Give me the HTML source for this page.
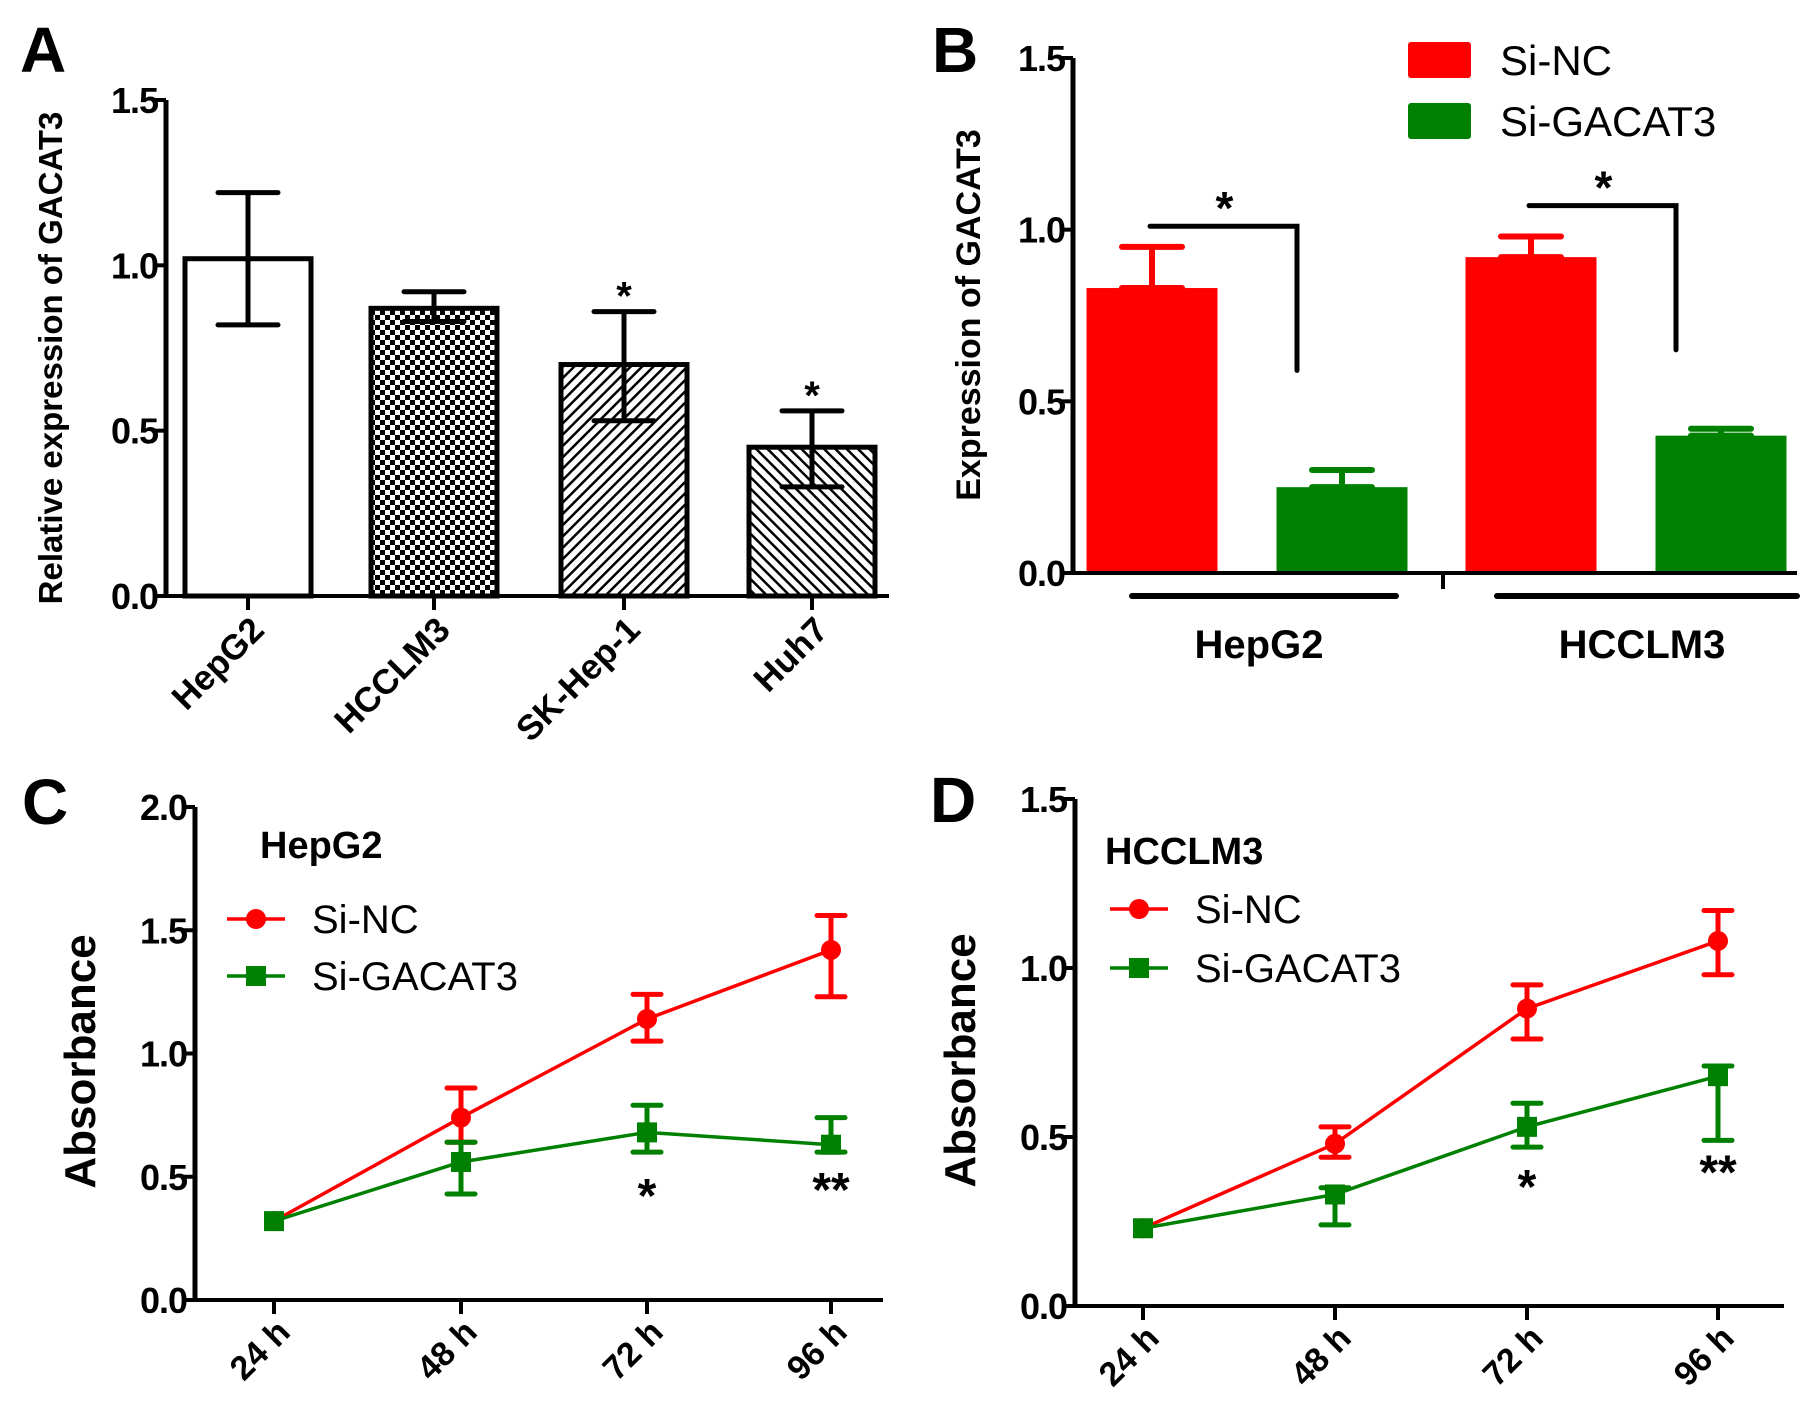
<!DOCTYPE html>
<html><head><meta charset="utf-8"><style>
html,body{margin:0;padding:0;background:#fff;overflow:hidden}
svg{display:block;font-family:"Liberation Sans",Arial,sans-serif}
</style></head><body>
<svg id="fig" width="1819" height="1420" viewBox="0 0 1819 1420" xmlns="http://www.w3.org/2000/svg">
<defs>
<pattern id="checker" width="10" height="10" patternUnits="userSpaceOnUse"><rect width="10" height="10" fill="#fff"/><rect width="5" height="5" fill="#000"/><rect x="5" y="5" width="5" height="5" fill="#000"/></pattern>
<pattern id="hatch1" width="8" height="8" patternUnits="userSpaceOnUse" patternTransform="rotate(45)"><rect width="8" height="8" fill="#fff"/><rect width="2.5" height="8" fill="#000"/></pattern>
<pattern id="hatch2" width="8" height="8" patternUnits="userSpaceOnUse" patternTransform="rotate(-45)"><rect width="8" height="8" fill="#fff"/><rect width="2.5" height="8" fill="#000"/></pattern>
</defs>
<g id="gA"></g>
<g id="gB"></g>
<g id="gC"></g>
<g id="gD"></g>
</svg>
<script>
// Panel A data
const aCategories = ["HepG2","HCCLM3","SK-Hep-1","Huh7"];
const aValues = [1.02,0.87,0.70,0.45];
const aErrHigh = [1.22,0.92,0.86,0.56];
const aErrLow = [0.82,0.83,0.53,0.33];
const aStars = ["","","*","*"];
const aTicks = [0.0,0.5,1.0,1.5];
// Panel B data
const bGroups = ["HepG2","HCCLM3"];
const bSeries = ["Si-NC","Si-GACAT3"];
const bNC = [0.83,0.92];
const bNCErr = [0.95,0.98];
const bSi = [0.25,0.40];
const bSiErr = [0.30,0.42];
const bBracketTop = [1.01,1.07];
const bBracketEnd = [0.59,0.65];
const bTicks = [0.0,0.5,1.0,1.5];
// Panel C data
const timeLabels = ["24 h","48 h","72 h","96 h"];
const cNC = [0.32,0.74,1.14,1.42];
const cNCHigh = [0.32,0.86,1.24,1.56];
const cNCLow = [0.32,0.64,1.05,1.23];
const cSi = [0.32,0.56,0.68,0.63];
const cSiHigh = [0.32,0.64,0.79,0.74];
const cSiLow = [0.32,0.43,0.60,0.60];
const cStars = ["","","*","**"];
const cTicks = [0.0,0.5,1.0,1.5,2.0];
// Panel D data
const dNC = [0.23,0.48,0.88,1.08];
const dNCHigh = [0.23,0.53,0.95,1.17];
const dNCLow = [0.23,0.44,0.79,0.98];
const dSi = [0.23,0.33,0.53,0.68];
const dSiHigh = [0.23,0.35,0.60,0.71];
const dSiLow = [0.23,0.24,0.47,0.49];
const dStars = ["","","*","**"];
const dTicks = [0.0,0.5,1.0,1.5];

const NS="http://www.w3.org/2000/svg";
function el(parent,tag,attrs,text){const e=document.createElementNS(NS,tag);for(const k in attrs)e.setAttribute(k,attrs[k]);if(text!==undefined)e.textContent=text;parent.appendChild(e);return e;}
function lin(d0,d1,r0,r1){return v=>r0+(v-d0)/(d1-d0)*(r1-r0);}
const RED="#ff0000",GREEN="#008000";

function yAxis(g,x,y,ticks,fmtSize){
  const ax=el(g,'line',{x1:x,y1:y(ticks[0])+2,x2:x,y2:y(ticks[ticks.length-1]),stroke:'#000','stroke-width':5});
  
  
  ticks.forEach(t=>{
    const tk=el(g,'line',{x1:x-12,y1:y(t),x2:x,y2:y(t),stroke:'#000','stroke-width':4});
    
    
    const lb=el(g,'text',{x:x-8,y:y(t)+13,'text-anchor':'end','font-size':fmtSize,'font-weight':'bold','letter-spacing':-1},t.toFixed(1));
    
    
  });
}
function label(g,x,y,txt,size,name,weight,anchor){
  const t=el(g,'text',{x:x,y:y,'font-size':size,'font-weight':weight||'bold','text-anchor':anchor||'start'},txt);
  
  
  return t;
}
function vtitle(g,x,y,txt,size){
  const t=el(g,'text',{x:0,y:0,'font-size':size,'font-weight':'bold','text-anchor':'middle',transform:`translate(${x},${y}) rotate(-90)`},txt);
  
  
}
function errbar(g,x,hi,lo,w,color,sw){
  const e=el(g,'path',{d:`M${x},${hi}V${lo}M${x-w},${hi}H${x+w}M${x-w},${lo}H${x+w}`,stroke:color,'stroke-width':sw,fill:'none','stroke-linecap':'round'});
  
  
}

// ---------- Panel A ----------
(function(){
  const g=document.getElementById('gA');
  const y=lin(0,1.5,596,100);
  label(g,20,72,"A",64,'panel-label-a');
  vtitle(g,62,358,"Relative expression of GACAT3",33);
  const centers=[248,434,624,812], bw=126;
  const fills=["#fff","url(#checker)","url(#hatch1)","url(#hatch2)"];
  aCategories.forEach((c,i)=>{
    const cx=centers[i];
    const r=el(g,'rect',{x:cx-bw/2,y:y(aValues[i]),width:bw,height:y(0)-y(aValues[i]),fill:fills[i],stroke:'#000','stroke-width':5});
    
    
    errbar(g,cx,y(aErrHigh[i]),y(aErrLow[i]),30,'#000',5);
    if(aStars[i]){label(g,cx,y(aErrHigh[i])-2,aStars[i],40,'significance-star','bold','middle');}
    const tk=el(g,'line',{x1:cx,y1:y(0),x2:cx,y2:y(0)+14,stroke:'#000','stroke-width':4});
    
    
    const t=el(g,'text',{x:0,y:0,'font-size':35,'font-weight':'bold','text-anchor':'end',transform:`translate(${cx+18},${y(0)+36}) rotate(-45)`},c);
    
    
  });
  const xa=el(g,'line',{x1:166,y1:y(0),x2:889,y2:y(0),stroke:'#000','stroke-width':4});
  
  
  yAxis(g,166,y,aTicks,36);
})();

// ---------- Panel B ----------
(function(){
  const g=document.getElementById('gB');
  const y=lin(0,1.5,573,58);
  label(g,932,72,"B",64,'panel-label-b');
  vtitle(g,980,315,"Expression of GACAT3",34);
  const groupX=[1247,1626], off=95, bw=131;
  bGroups.forEach((grp,i)=>{
    const xr=groupX[i]-off, xg=groupX[i]+off;
    const r1=el(g,'rect',{x:xr-bw/2,y:y(bNC[i]),width:bw,height:y(0)-y(bNC[i]),fill:RED});
    
    
    errbar(g,xr,y(bNCErr[i]),y(bNC[i]),30,RED,6);
    const r2=el(g,'rect',{x:xg-bw/2,y:y(bSi[i]),width:bw,height:y(0)-y(bSi[i]),fill:GREEN});
    
    
    errbar(g,xg,y(bSiErr[i]),y(bSi[i]),30,GREEN,6);
    const top=y(bBracketTop[i]);
    const br=el(g,'path',{d:`M${xr-2},${top}H${xg-45}V${y(bBracketEnd[i])}`,stroke:'#000','stroke-width':5,fill:'none','stroke-linecap':'round'});
    
    
    label(g,(xr+xg-45)/2,top-2,"*",46,'significance-star','bold','middle');
    const gl=el(g,'line',{x1:[1132,1497][i],y1:596,x2:[1396,1797][i],y2:596,stroke:'#000','stroke-width':6,'stroke-linecap':'round'});
    
    
    label(g,groupX[i]+[12,16][i],658,grp,40,'x-group-label','bold','middle');
  });
  const tk=el(g,'line',{x1:1443,y1:575,x2:1443,y2:589,stroke:'#000','stroke-width':4});
  
  
  const xa=el(g,'line',{x1:1073,y1:y(0),x2:1797,y2:y(0),stroke:'#000','stroke-width':4});
  
  
  yAxis(g,1073,y,bTicks,36);
  [[RED,42,bSeries[0]],[GREEN,103,bSeries[1]]].forEach(([c,yy,t])=>{
    const r=el(g,'rect',{x:1408,y:yy,width:63,height:36,fill:c,rx:3});
    
    
    label(g,1500,yy+33,t,42,'legend-entry','normal');
  });
})();

// ---------- line panels ----------
function linePanel(gid,letter,lx,ly,axisX,y0px,ytopPx,ymax,ticks,xs,xEnd,title,tx,ty,nc,ncH,ncL,si,siH,siL,stars,starOff,legX,legY,legDy){
  const g=document.getElementById(gid);
  const y=lin(0,ymax,y0px,ytopPx);
  label(g,lx,ly,letter,64,'panel-label-'+letter.toLowerCase());
  vtitle(g,axisX-100,(y0px+ytopPx)/2+8,"Absorbance",44);
  label(g,tx,ty,title,38,'panel-title');
  const series=[[nc,ncH,ncL,RED,'ci','si-nc'],[si,siH,siL,GREEN,'sq','si-gacat3']];
  series.forEach(([v,h,l,c,m,n])=>{
    const p=el(g,'polyline',{points:v.map((d,i)=>`${xs[i]},${y(d)}`).join(' '),fill:'none',stroke:c,'stroke-width':3.5});
    
    
    v.forEach((d,i)=>{
      if(h[i]!==l[i]) errbar(g,xs[i],y(h[i]),y(l[i]),14,c,5);
      let mk;
      if(m==='ci') mk=el(g,'circle',{cx:xs[i],cy:y(d),r:10,fill:c});
      else mk=el(g,'rect',{x:xs[i]-10,y:y(d)-10,width:20,height:20,fill:c});
      
      
    });
  });
  stars.forEach((s,i)=>{ if(s) label(g,xs[i],y(siL[i])+starOff[i],s,48,'significance-star','bold','middle'); });
  xs.forEach((x,i)=>{
    const tk=el(g,'line',{x1:x,y1:y0px,x2:x,y2:y0px+14,stroke:'#000','stroke-width':4});
    
    
    const t=el(g,'text',{x:0,y:0,'font-size':34,'font-weight':'bold','text-anchor':'end',transform:`translate(${x+18},${y0px+34}) rotate(-45)`},timeLabels[i]);
    
    
  });
  const xa=el(g,'line',{x1:axisX,y1:y0px,x2:xEnd,y2:y0px,stroke:'#000','stroke-width':4});
  
  
  yAxis(g,axisX,y,ticks,36);
  [[RED,'ci','Si-NC',0],[GREEN,'sq','Si-GACAT3',legDy]].forEach(([c,m,t,dy])=>{
    const ln=el(g,'line',{x1:legX,y1:legY+dy,x2:legX+58,y2:legY+dy,stroke:c,'stroke-width':3.5});
    
    
    let mk;
    if(m==='ci') mk=el(g,'circle',{cx:legX+29,cy:legY+dy,r:10,fill:c});
    else mk=el(g,'rect',{x:legX+19,y:legY+dy-10,width:20,height:20,fill:c});
    
    
    label(g,legX+85,legY+dy+14,t,40,'legend-entry','normal');
  });
}
linePanel('gC','C',22,824,195,1300,807,2.0,cTicks,[274,461,647,831],883,"HepG2",260,858,cNC,cNCHigh,cNCLow,cSi,cSiHigh,cSiLow,cStars,[0,0,60,54],227,919,57);
linePanel('gD','D',930,822,1075,1306,799,1.5,dTicks,[1143,1335,1527,1718],1784,"HCCLM3",1105,864,dNC,dNCHigh,dNCLow,dSi,dSiHigh,dSiLow,dStars,[0,0,56,48],1110,909,59);
</script>
</body></html>
